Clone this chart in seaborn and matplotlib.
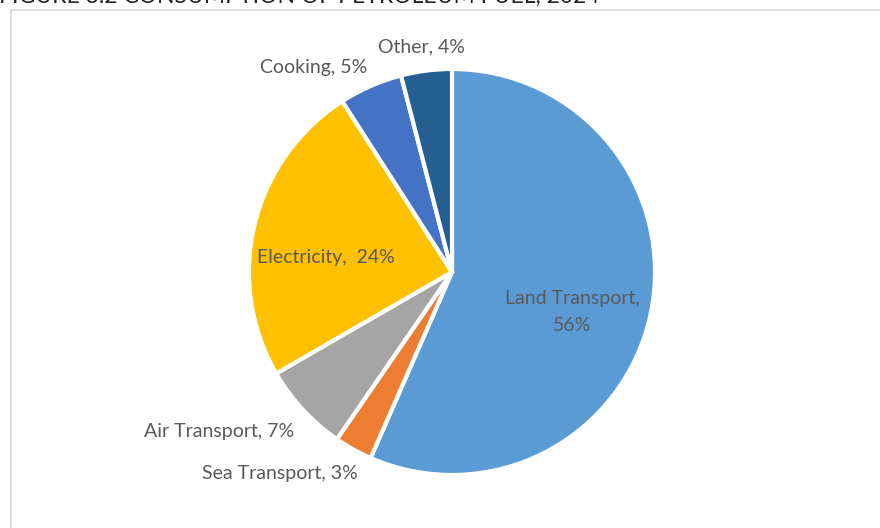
import matplotlib
matplotlib.use("Agg")
import matplotlib.pyplot as plt
import matplotlib.patches as mpatches
import seaborn as sns

# Petroleum fuel consumption shares by end use (%)
categories = ["Land Transport", "Sea Transport", "Air Transport",
              "Electricity", "Cooking", "Other"]
shares = [56, 3, 7, 24, 5, 4]
colors = ["#5B9BD5", "#ED7D31", "#A5A5A5", "#FFC000", "#4472C4", "#255E91"]
label_texts = ["Land Transport,\n56%", "Sea Transport, 3%", "Air Transport, 7%",
               "Electricity,  24%", "Cooking, 5%", "Other, 4%"]
title = "FIGURE 3.2 CONSUMPTION OF PETROLEUM FUEL, 2024"

sns.set_theme(style="white")
plt.rcParams["font.family"] = ["Lato", "DejaVu Sans"]

W, H = 880, 528
fig = plt.figure(figsize=(W / 100, H / 100), dpi=100)
ax = fig.add_axes([0, 0, 1, 1])

# chart frame
ax.add_patch(mpatches.Rectangle((10.5, -20), 900, H - 9.5 + 20, fill=False,
                                edgecolor="#D9D9D9", linewidth=1.2))

cx, cy, r = 452, H - 272, 203
ax.pie(shares, colors=colors, startangle=90, counterclock=False,
       center=(cx, cy), radius=r, frame=True,
       wedgeprops=dict(edgecolor="white", linewidth=3))
ax.set_xlim(0, W)
ax.set_ylim(0, H)
ax.set_aspect("equal")
ax.axis("off")

label_pos = [(572, 312), (280, 474), (219, 432), (326, 258), (314, 67), (421, 47)]
for txt, (x, y) in zip(label_texts, label_pos):
    ax.text(x, H - y, txt, ha="center", va="center", fontsize=14,
            color="#595959", linespacing=1.7)

ax.text(-1, H - 3, title, ha="left", va="baseline", fontsize=16.5,
        color="#222222")

fig.savefig("out.png", dpi=100)
